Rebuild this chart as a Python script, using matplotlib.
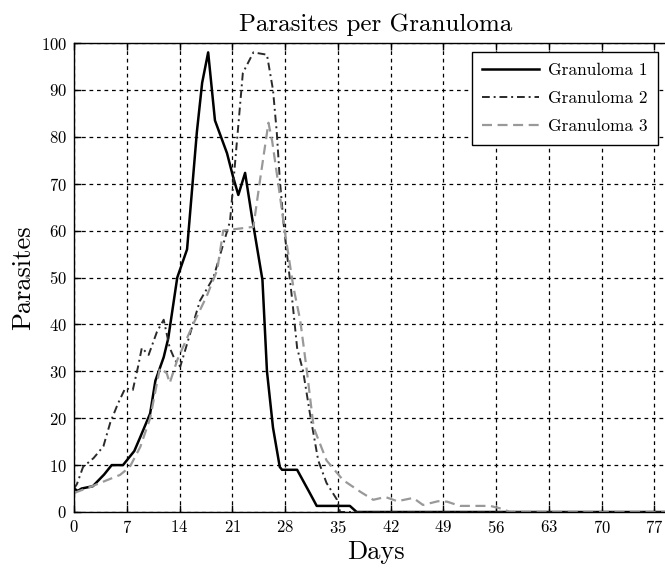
import numpy as np
import matplotlib
matplotlib.use('Agg')
import matplotlib.pyplot as plt

plt.rcParams['font.family'] = 'serif'
plt.rcParams['font.serif'] = ['cmr10']
plt.rcParams['mathtext.fontset'] = 'cm'
plt.rcParams['axes.formatter.use_mathtext'] = True

# Granuloma 1 (solid black)
days1 = [0, 0.5, 1, 2.5, 4, 5, 6.5, 7, 8, 8.8, 10.1, 10.8, 11.9, 12.5, 13.7, 15,
         16.3, 17, 17.8, 18.7, 20.3, 21.1, 21.8, 22.7, 23.6, 25, 25.6, 26.4, 27.3,
         27.6, 29.6, 31.3, 32.2, 36.6, 37.5, 80]
vals1 = [5, 4.5, 5, 5.5, 8, 10, 10, 11, 13, 16, 21, 28, 33, 37, 50, 56,
         81, 91.5, 98, 83.5, 76.5, 71.5, 67.6, 72.3, 63, 49.5, 30, 18, 9.6,
         9, 9, 4, 1.3, 1.3, 0, 0]

# Granuloma 2 (dash-dot)
days2 = [0, 0.4, 1.2, 2.6, 3.9, 4.8, 5.8, 6.8, 7.8, 8.5, 9, 9.9, 11, 11.9, 12.7,
         13.4, 14.1, 16.7, 18.5, 20.7, 22.4, 23.8, 25.6, 26.4, 26.9, 27.3, 27.8,
         29, 29.6, 30.4, 31.3, 32.4, 33.5, 34.9, 35.3, 80]
vals2 = [5, 6, 9.6, 11.5, 14, 19, 23, 26.4, 26, 31, 35, 33.5, 38.4, 41, 35,
         32.4, 31, 45, 50, 62, 93.6, 98, 97.5, 90, 81, 71, 61.6,
         44.5, 35, 30, 21, 11, 6.2, 2.6, 0, 0]

# Granuloma 3 (grey dashed)
days3 = [0, 0.4, 2.1, 4.4, 6.1, 7.4, 8.8, 10.1, 11.4, 12.3, 12.7, 13.7, 15.8,
         17.6, 19, 19.8, 23.8, 24.7, 25.8, 26.3, 27.1, 28, 29.1, 30, 30.9, 31.8,
         33.5, 35.7, 38, 39.7, 41.3, 42.9, 45, 46.3, 48.3, 49.5, 51.2, 55.2, 57,
         57.8, 80]
vals3 = [4, 4.3, 5.3, 6.8, 7.9, 9.6, 13.9, 20, 30.7, 29.6, 27.5, 32.4, 40,
         46, 51.6, 60, 60.8, 71, 83, 79, 70, 59.5, 48, 41, 30, 18,
         11, 6.8, 4.3, 2.6, 3.2, 2.3, 3, 1.5, 2.3, 2.2, 1.3, 1.3, 0.6,
         0, 0]

labels = ['Granuloma 1', 'Granuloma 2', 'Granuloma 3']
xticks = np.arange(0, 78, 7)
yticks = np.arange(0, 101, 10)

fig = plt.figure(figsize=(6.65, 5.71), dpi=100)
ax = fig.add_axes([74 / 665, 59 / 571, 603 / 665, 469 / 571])

ax.plot(days1, vals1, color='black', lw=1.8, ls='-', label=labels[0])
ax.plot(days2, vals2, color='#2a2a2a', lw=1.4, ls=(0, (4, 2, 1, 2)), label=labels[1])
ax.plot(days3, vals3, color='#999999', lw=1.6, ls=(0, (4.5, 2.5)), label=labels[2])

ax.set_xlim(0, 80)
ax.set_ylim(0, 100)
ax.set_xticks(xticks)
ax.set_yticks(yticks)
ax.tick_params(direction='in', length=5, top=True, right=True, labelsize=12,
               width=1, pad=5)
ax.grid(True, color='black', ls=(0, (3, 3)), lw=0.9)
for s in ax.spines.values():
    s.set_linewidth(1.0)

ax.set_title('Parasites per Granuloma', fontsize=18, pad=9)
ax.set_xlabel('Days', fontsize=19, labelpad=3)
ax.set_ylabel('Parasites', fontsize=19, labelpad=4)

ax.legend(loc='upper right', bbox_to_anchor=(658 / 665, 1 - 52 / 571),
          bbox_transform=fig.transFigure, borderaxespad=0, fancybox=False,
          edgecolor='black', framealpha=1, fontsize=12.5, handlelength=3.3,
          borderpad=0.6, labelspacing=0.75, handletextpad=0.5)

fig.savefig('out.png', dpi=100, facecolor='white')
